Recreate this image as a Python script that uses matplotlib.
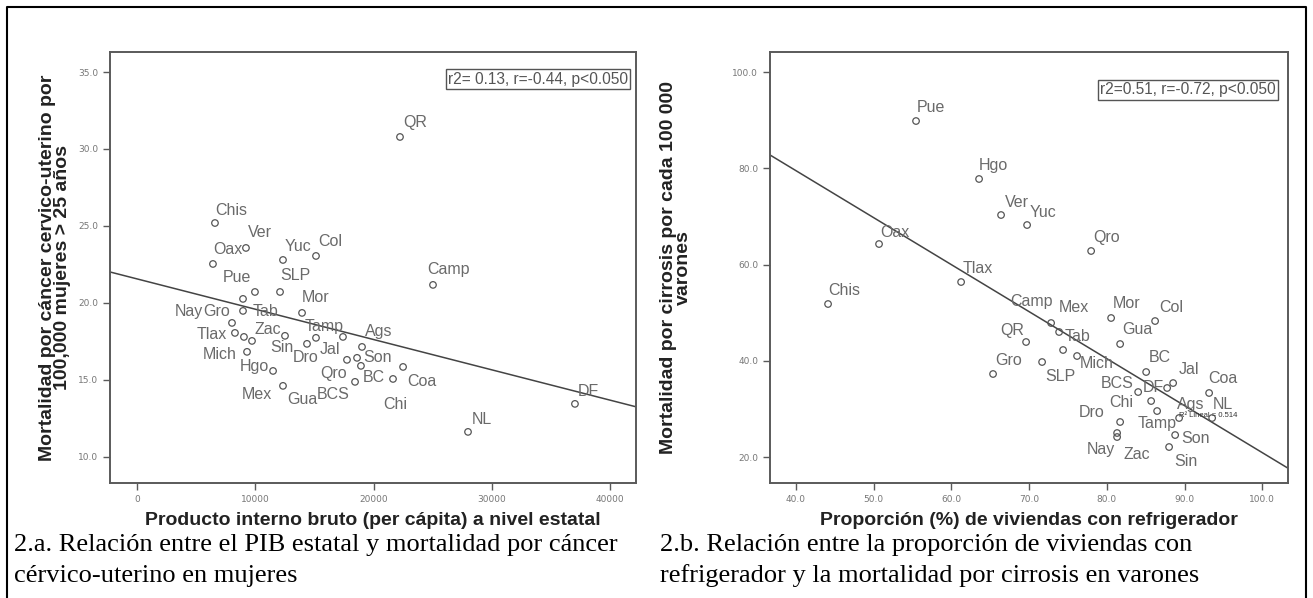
import matplotlib
matplotlib.use("Agg")
import matplotlib.pyplot as plt
import numpy as np

# ---- panel a: PIB per capita vs mortalidad cancer cervico-uterino
estados_a = ["QR", "Chis", "Ver", "Oax", "Yuc", "Col", "Camp", "SLP", "Pue", "Gro",
             "Tab", "Nay", "Mor", "Tlax", "Zac", "Mich", "Hgo", "Mex", "Gua", "Sin",
             "Dro", "Tamp", "Jal", "Ags", "Qro", "Son", "BCS", "BC", "Coa", "Chi",
             "DF", "NL"]
pib = [22230, 6590, 9210, 6420, 12340, 15130, 25020, 12090, 9970, 8960,
       8960, 8030, 13950, 8280, 9720, 9300, 11500, 9040, 12340, 12510,
       14370, 15130, 17410, 19020, 17750, 18600, 18930, 18430, 21640, 22490,
       37020, 27980]
mort_cacu = [30.78, 25.19, 23.57, 22.53, 22.79, 23.05, 21.17, 20.71, 20.71, 20.26,
             19.48, 18.70, 19.35, 18.05, 17.53, 16.82, 15.58, 17.79, 14.61, 17.86,
             17.34, 17.73, 17.79, 17.14, 16.30, 16.43, 15.91, 14.87, 15.06, 15.84,
             13.44, 11.62]
# fitted line (intercept, slope)
recta_a = (21.56, -0.000197)

# ---- panel b: viviendas con refrigerador vs mortalidad por cirrosis
estados_b = ["Pue", "Hgo", "Ver", "Yuc", "Oax", "Qro", "Tlax", "Chis", "QR", "Gro",
             "Camp", "Mex", "Tab", "Mich", "SLP", "Mor", "Col", "Gua", "BC", "Jal",
             "Coa", "BCS", "DF", "Chi", "Tamp", "Dro", "Nay", "Zac", "Sin", "Son",
             "Ags", "NL"]
refrig = [55.44, 63.55, 66.38, 69.73, 50.68, 77.97, 61.24, 44.12, 69.60, 65.35,
          72.82, 73.85, 74.36, 76.16, 71.66, 80.54, 86.20, 81.70, 85.05, 88.52,
          93.15, 84.02, 87.75, 85.69, 86.46, 81.70, 81.31, 81.31, 88.00, 88.78,
          89.29, 93.54]
mort_cirr = [89.85, 77.80, 70.31, 68.23, 64.28, 62.83, 56.38, 51.81, 43.91, 37.26,
             47.86, 45.99, 42.25, 41.00, 39.75, 48.90, 48.27, 43.49, 37.67, 35.38,
             33.31, 33.51, 34.35, 31.64, 29.56, 27.28, 24.99, 24.16, 22.08, 24.57,
             28.11, 28.11]
recta_b = (118.6, -0.977)

xticks_a = [0, 10000, 20000, 30000, 40000]
yticks_a = [10.0, 15.0, 20.0, 25.0, 30.0, 35.0]
xticks_b = [40.0, 50.0, 60.0, 70.0, 80.0, 90.0, 100.0]
yticks_b = [20.0, 40.0, 60.0, 80.0, 100.0]

# label offsets in pixels (right, up) from each circle, as SPSS placed them
off_a = {"QR": (3, 14), "Chis": (0, 13), "Ver": (2, 15), "Oax": (0, 14), "Yuc": (2, 13),
         "Col": (2, 14), "Camp": (-6, 15), "SLP": (0, 16), "Pue": (-32, 14),
         "Gro": (-40, -13), "Tab": (10, -1), "Nay": (-57, 11), "Mor": (0, 15),
         "Tlax": (-38, -2), "Zac": (3, 11), "Mich": (-44, -3), "Hgo": (-33, 4),
         "Mex": (-2, -58), "Gua": (4, -14), "Sin": (-15, -12), "Dro": (-14, -14),
         "Tamp": (-11, 11), "Jal": (-23, -13), "Ags": (3, 15), "Qro": (-27, -14),
         "Son": (6, 0), "BCS": (-44, -29), "BC": (8, 4), "Coa": (14, -3),
         "Chi": (-20, -38), "DF": (3, 12), "NL": (4, 12)}
off_b = {"Pue": (1, 14), "Hgo": (0, 13), "Ver": (4, 13), "Yuc": (3, 13), "Oax": (1, 12),
         "Qro": (2, 14), "Tlax": (2, 14), "Chis": (0, 14), "QR": (-26, 12), "Gro": (2, 13),
         "Camp": (-41, 22), "Mex": (0, 25), "Tab": (2, 13), "Mich": (3, -7),
         "SLP": (3, -14), "Mor": (2, 15), "Col": (4, 14), "Gua": (2, 15), "BC": (3, 15),
         "Jal": (6, 14), "Coa": (-1, 14), "BCS": (-37, 9), "DF": (-24, 0),
         "Chi": (-42, -1), "Tamp": (-19, -12), "Dro": (-41, 10), "Nay": (-30, -16),
         "Zac": (6, -17), "Sin": (5, -14), "Son": (6, -3), "Ags": (-2, 14), "NL": (1, 14)}

W, H = 1313, 598
fig = plt.figure(figsize=(W / 100, H / 100), dpi=100)
fig.patch.set_facecolor("white")

gris = "#5a5a5a"
sans = ["Liberation Sans", "DejaVu Sans"]


def panel(rect, x, y, names, offs, recta, xlim, ylim, xt, yt, xfmt, yfmt,
          stats, stats_pos, xlab):
    ax = fig.add_axes(rect)
    ax.set_xlim(xlim)
    ax.set_ylim(ylim)
    xx = np.array(xlim)
    ax.plot(xx, recta[0] + recta[1] * xx, color="#444444", lw=1.1, zorder=2)
    ax.scatter(x, y, s=22, facecolors="none", edgecolors="#555555", linewidths=0.9, zorder=3)
    for xi, yi, n in zip(x, y, names):
        dx, dy = offs[n]
        ax.annotate(n, (xi, yi), xytext=(dx, dy), textcoords="offset pixels",
                    ha="left", va="center", fontsize=11.5, color="#6a6a6a", family=sans)
    ax.set_xticks(xt)
    ax.set_xticklabels([xfmt.format(v) for v in xt])
    ax.set_yticks(yt)
    ax.set_yticklabels([yfmt.format(v) for v in yt])
    ax.tick_params(length=5, width=1, color=gris, labelsize=6.5, labelcolor="#777777")
    for s in ax.spines.values():
        s.set_color(gris)
        s.set_linewidth(1.4)
    ax.text(stats_pos[0], stats_pos[1], stats, transform=ax.transAxes, ha="right",
            va="center", fontsize=11.2, color="#555555", family=sans,
            bbox=dict(boxstyle="square,pad=0.15", fc="white", ec="#555555", lw=1))
    ax.set_xlabel(xlab, fontsize=14, fontweight="bold", color="#222222", family=sans,
                  labelpad=6)
    return ax


ax1 = panel([110 / W, 1 - 483 / H, 526 / W, 431 / H], pib, mort_cacu, estados_a, off_a,
            recta_a, (-2283, 42180), (8.3, 36.3), xticks_a, yticks_a, "{:.0f}", "{:.1f}",
            "r2= 0.13, r=-0.44, p<0.050", (0.985, 0.937),
            "Producto interno bruto (per cápita) a nivel estatal")
ax1.set_ylabel("Mortalidad por cáncer cervico-uterino por\n100,000 mujeres > 25 años",
               fontsize=14, fontweight="bold", color="#222222", family=sans,
               linespacing=0.85)
ax1.yaxis.set_label_coords(-0.074, 0.5)

ax2 = panel([770 / W, 1 - 483 / H, 518 / W, 431 / H], refrig, mort_cirr, estados_b, off_b,
            recta_b, (36.65, 103.3), (14.6, 104.2), xticks_b, yticks_b, "{:.1f}", "{:.1f}",
            "r2=0.51, r=-0.72, p<0.050", (0.977, 0.912),
            "Proporción (%) de viviendas con refrigerador")
ax2.set_ylabel("Mortalidad por cirrosis por cada 100 000\nvarones",
               fontsize=14, fontweight="bold", color="#222222", family=sans,
               linespacing=0.85)
ax2.yaxis.set_label_coords(-0.15, 0.5)
ax2.text(89.3, 28.6, "R² Lineal = 0.514", fontsize=5.5, color="#333333", family=sans,
         ha="left", va="center", zorder=4)

# captions
serif = ["Liberation Serif", "DejaVu Serif"]
fig.text(14 / W, 1 - 545 / H, "2.a. Relación entre el PIB estatal y mortalidad por cáncer",
         fontsize=19, family=serif, va="center")
fig.text(14 / W, 1 - 576 / H, "cérvico-uterino en mujeres", fontsize=19, family=serif,
         va="center")
fig.text(660 / W, 1 - 545 / H, "2.b. Relación entre la proporción de viviendas con",
         fontsize=19, family=serif, va="center")
fig.text(660 / W, 1 - 576 / H, "refrigerador y la mortalidad por cirrosis en varones",
         fontsize=19, family=serif, va="center")

# outer frame of the table cell
frame = plt.Line2D([7 / W, 7 / W, 1306 / W, 1306 / W], [0, 1 - 7 / H, 1 - 7 / H, 0],
                   transform=fig.transFigure, color="black", lw=1.5)
fig.add_artist(frame)

fig.savefig("out.png", dpi=100, facecolor="white")
